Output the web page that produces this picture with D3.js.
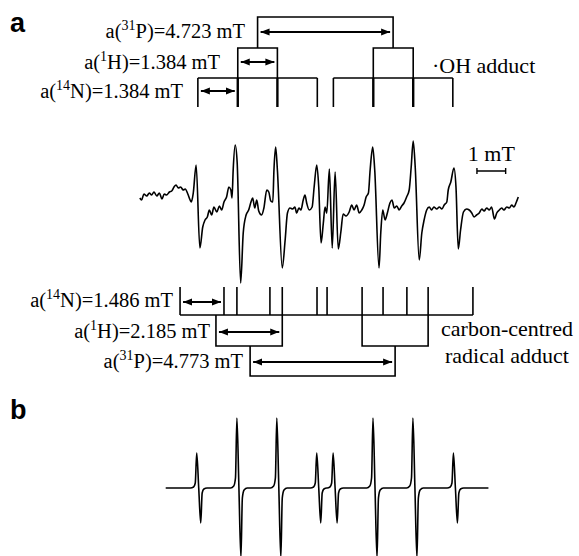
<!DOCTYPE html>
<html>
<head>
<meta charset="utf-8">
<script src="https://cdn.jsdelivr.net/npm/d3@7"></script>
<style>
  body { margin: 0; background: #fff; }
</style>
</head>
<body>
<div id="chart"></div>
<script>
// experimental spectrum (a): [field / mT, intensity / a.u.]
const expSpectrum = [
  [0.03, 7], [0.09, 5], [0.17, 11], [0.27, 9], [0.36, 12], [0.44, 10], [0.52, 13], [0.62, 9],
  [0.71, 12], [0.80, 6], [0.88, 11], [0.96, 10], [1.06, 13], [1.14, 14], [1.22, 18], [1.29, 20],
  [1.37, 17], [1.45, 18], [1.54, 15], [1.61, 16], [1.70, 11], [1.78, 5], [1.82, 3], [1.89, 12],
  [1.99, 40], [2.12, -43], [2.22, -22], [2.30, -15], [2.38, -12], [2.45, -5], [2.53, -10], [2.61, -2],
  [2.71, -7], [2.80, -1], [2.88, -5], [2.96, 3], [3.05, 8], [3.13, 18], [3.20, 15], [3.24, 7],
  [3.28, 35], [3.35, 60], [3.42, 42], [3.54, -78], [3.63, -28], [3.73, -10], [3.82, -5], [3.90, 3],
  [3.96, 7], [4.03, -3], [4.10, 5], [4.17, -6], [4.27, -10], [4.35, -3], [4.45, 15], [4.52, 13],
  [4.59, 4], [4.66, 3], [4.70, 35], [4.76, 58], [4.82, 35], [4.99, -63], [5.09, -35], [5.17, -8],
  [5.26, -3], [5.35, -4], [5.43, -2], [5.49, -8], [5.57, -3], [5.64, -5], [5.72, 5], [5.78, 10],
  [5.84, 2], [5.93, -5], [6.03, -2], [6.10, 18], [6.19, 40], [6.26, 18], [6.34, -38], [6.42, -18],
  [6.48, -2], [6.54, -8], [6.63, 36], [6.73, -43], [6.83, 33], [6.94, -44], [7.03, -27], [7.11, -9],
  [7.21, -11], [7.32, -7], [7.41, 0], [7.49, -5], [7.58, 0], [7.67, -8], [7.76, -5], [7.84, 0],
  [7.91, 8], [7.99, 12], [8.05, 35], [8.14, 58], [8.21, 35], [8.36, -63], [8.42, -28], [8.49, -5],
  [8.57, -15], [8.65, -8], [8.74, 2], [8.81, 5], [8.89, -3], [8.98, -1], [9.06, -5], [9.15, -1],
  [9.23, 2], [9.32, 8], [9.41, 15], [9.48, 38], [9.55, 64], [9.62, 38], [9.76, -55], [9.85, -28],
  [9.93, -15], [10.02, -5], [10.11, -2], [10.19, -5], [10.27, -2], [10.37, -4], [10.46, -2], [10.55, -4],
  [10.63, 0], [10.72, 3], [10.77, 15], [10.86, 23], [10.97, 37], [11.04, 18], [11.12, -44], [11.20, -25],
  [11.30, -7], [11.41, -4], [11.50, -5], [11.59, -8], [11.67, -12], [11.76, -10], [11.85, -8], [11.94, -4],
  [12.02, -6], [12.11, -3], [12.20, -5], [12.28, -2], [12.38, -14], [12.46, -8], [12.55, -5], [12.63, -3],
  [12.71, -5], [12.81, -2], [12.90, -3], [12.98, 0], [13.06, -2], [13.13, 2], [13.21, 8]
];

// simulated spectrum (b)
const simSpectrum = [
  [0.93, 0],
  [1.79, 0], [1.90, 1], [1.96, 5], [2.01, 35], [2.08, 0], [2.15, -35], [2.20, -5], [2.26, -1], [2.37, 0],
  [3.19, 0], [3.30, 2], [3.36, 10], [3.41, 70], [3.48, 0], [3.55, -70], [3.60, -10], [3.66, -2], [3.77, 0],
  [4.58, 0], [4.69, 2], [4.75, 10], [4.80, 70], [4.87, 0], [4.94, -70], [4.99, -10], [5.05, -2], [5.16, 0],
  [5.97, 0], [6.08, 1], [6.14, 5], [6.19, 35], [6.26, 0], [6.33, -35], [6.38, -5], [6.44, -1], [6.54, 0],
  [6.55, 0], [6.65, 1], [6.71, 5], [6.76, 35], [6.83, 0], [6.90, -35], [6.95, -5], [7.01, -1], [7.12, 0],
  [7.93, 0], [8.04, 2], [8.10, 10], [8.15, 70], [8.22, 0], [8.29, -70], [8.34, -10], [8.40, -2], [8.51, 0],
  [9.32, 0], [9.43, 2], [9.49, 10], [9.54, 70], [9.61, 0], [9.68, -70], [9.73, -10], [9.79, -2], [9.90, 0],
  [10.73, 0], [10.84, 1], [10.90, 5], [10.95, 35], [11.02, 0], [11.09, -35], [11.14, -5], [11.20, -1], [11.31, 0],
  [12.17, 0]
];

// stick diagram, .OH adduct (mT)
const ohPLines = [4.13, 8.85];
const ohHLines = [[3.44, 4.82], [8.16, 9.55]];
const ohNLines = [[2.05, 3.44, 4.82, 6.21], [6.77, 8.16, 9.55, 10.93]];
const ohNWeights = [1, 2, 2, 1];
const ohCouplings = [
  {mass: '31', atom: 'P', a: 4.723},
  {mass: '1', atom: 'H', a: 1.384},
  {mass: '14', atom: 'N', a: 1.384}
];

// stick diagram, carbon-centred radical adduct (mT)
const ccNLines = [1.43, 2.96, 3.41, 4.56, 4.99, 6.20, 6.55, 7.77, 8.50, 9.33, 10.07, 11.63];
const ccHLines = [[2.68, 4.99], [7.77, 10.07]];
const ccPLines = [3.87, 8.92];
const ccCouplings = [
  {mass: '14', atom: 'N', a: 1.486},
  {mass: '1', atom: 'H', a: 2.185},
  {mass: '31', atom: 'P', a: 4.773}
];

const scaleBar = {start: 11.77, length: 1, label: '1 mT'};

const width = 579, height = 556;
const serif = '"Liberation Serif", "Times New Roman", Times, "DejaVu Serif", serif';

const svg = d3.select('#chart').append('svg')
  .attr('width', width)
  .attr('height', height)
  .attr('font-family', serif);

const defs = svg.append('defs');
defs.append('marker')
  .attr('id', 'head')
  .attr('viewBox', '0 -4 9 8')
  .attr('markerUnits', 'userSpaceOnUse')
  .attr('markerWidth', 9)
  .attr('markerHeight', 8)
  .attr('refX', 9)
  .attr('refY', 0)
  .attr('orient', 'auto-start-reverse')
  .append('path')
    .attr('d', 'M0,-3.6L9,0L0,3.6Z')
    .attr('fill', '#000');

const x = d3.scaleLinear().domain([0, 13.2]).range([139, 518]);
const yA = d3.scaleLinear().domain([-100, 100]).range([305, 105]);
const yB = d3.scaleLinear().domain([-100, 100]).range([588, 388]);

const lineA = d3.line().x(d => x(d[0])).y(d => yA(d[1])).curve(d3.curveMonotoneX);
const lineB = d3.line().x(d => x(d[0])).y(d => yB(d[1])).curve(d3.curveMonotoneX);

svg.append('path')
  .attr('d', lineA(expSpectrum))
  .attr('fill', 'none')
  .attr('stroke', '#000')
  .attr('stroke-width', 1.6)
  .attr('stroke-linejoin', 'round');

svg.append('path')
  .attr('d', lineB(simSpectrum))
  .attr('fill', 'none')
  .attr('stroke', '#000')
  .attr('stroke-width', 1.6)
  .attr('stroke-linejoin', 'round');

const sticks = svg.append('g')
  .attr('fill', 'none')
  .attr('stroke', '#000')
  .attr('stroke-width', 1.6);

function arrow(f0, f1, y) {
  svg.append('line')
    .attr('x1', x(f0) + 3).attr('x2', x(f1) - 3)
    .attr('y1', y).attr('y2', y)
    .attr('stroke', '#000')
    .attr('stroke-width', 2)
    .attr('marker-start', 'url(#head)')
    .attr('marker-end', 'url(#head)');
}

function label(xp, y, str, anchor) {
  return svg.append('text')
    .attr('x', xp).attr('y', y)
    .attr('text-anchor', anchor || 'start')
    .attr('font-family', serif)
    .attr('font-size', 22)
    .text(str);
}

function coupling(c, xr, y) {
  const t = svg.append('text')
    .attr('x', xr).attr('y', y)
    .attr('text-anchor', 'end')
    .attr('font-family', serif)
    .attr('font-size', 20.5);
  t.append('tspan').text('a(');
  t.append('tspan').attr('dy', -8).attr('font-size', 14).text(c.mass);
  t.append('tspan').attr('dy', 8).text(c.atom + ')=' + c.a.toFixed(3) + ' mT');
}

// .OH adduct tree
const topY = {p: 17, h: 48, n: 78, tick: 107};
sticks.append('path')
  .attr('d', `M${x(ohPLines[0])},${topY.h}V${topY.p}H${x(ohPLines[1])}V${topY.h}`);
ohHLines.forEach(h => {
  sticks.append('path')
    .attr('d', `M${x(h[0])},${topY.n}V${topY.h}H${x(h[1])}V${topY.n}`);
});
ohNLines.forEach(g => {
  sticks.append('line')
    .attr('x1', x(g[0])).attr('x2', x(g[g.length - 1]))
    .attr('y1', topY.n).attr('y2', topY.n);
  g.forEach((f, i) => {
    sticks.append('line')
      .attr('x1', x(f)).attr('x2', x(f))
      .attr('y1', topY.n).attr('y2', topY.tick)
      .attr('stroke-width', ohNWeights[i] > 1 ? 2.4 : 1.6);
  });
});
arrow(ohPLines[0], ohPLines[1], 32);
arrow(ohHLines[0][0], ohHLines[0][1], 62);
arrow(ohNLines[0][0], ohNLines[0][1], 91);

coupling(ohCouplings[0], 245, 38);
coupling(ohCouplings[1], 220, 69);
coupling(ohCouplings[2], 183, 98);

label(432, 73, '\u00B7OH adduct');

// carbon-centred adduct tree
const botY = {tick: 287, n: 315, h: 346, p: 376};
sticks.append('line')
  .attr('x1', x(d3.min(ccNLines))).attr('x2', x(d3.max(ccNLines)))
  .attr('y1', botY.n).attr('y2', botY.n);
ccNLines.forEach(f => {
  sticks.append('line')
    .attr('x1', x(f)).attr('x2', x(f))
    .attr('y1', botY.tick).attr('y2', botY.n);
});
ccHLines.forEach(h => {
  sticks.append('path')
    .attr('d', `M${x(h[0])},${botY.n}V${botY.h}H${x(h[1])}V${botY.n}`);
});
sticks.append('path')
  .attr('d', `M${x(ccPLines[0])},${botY.h}V${botY.p}H${x(ccPLines[1])}V${botY.h}`);

arrow(ccNLines[0], ccNLines[1], 302);
arrow(ccHLines[0][0], ccHLines[0][1], 332);
arrow(ccPLines[0], ccPLines[1], 362);

coupling(ccCouplings[0], 173, 307);
coupling(ccCouplings[1], 210, 338);
coupling(ccCouplings[2], 243, 368);

label(507, 336, 'carbon-centred', 'middle');
label(507, 363, 'radical adduct', 'middle');

// 1 mT scale bar
const sb0 = x(scaleBar.start), sb1 = x(scaleBar.start + scaleBar.length);
sticks.append('path')
  .attr('d', `M${sb0},168V174M${sb0},171H${sb1}M${sb1},168V174`)
  .attr('stroke-width', 1.4);
label((sb0 + sb1) / 2, 161, scaleBar.label, 'middle');

svg.append('text')
  .attr('x', 10).attr('y', 32)
  .attr('font-family', '"Liberation Sans", Arial, sans-serif')
  .attr('font-weight', 'bold')
  .attr('font-size', 27)
  .text('a');
svg.append('text')
  .attr('x', 10).attr('y', 419)
  .attr('font-family', '"Liberation Sans", Arial, sans-serif')
  .attr('font-weight', 'bold')
  .attr('font-size', 27)
  .text('b');
</script>
</body>
</html>
